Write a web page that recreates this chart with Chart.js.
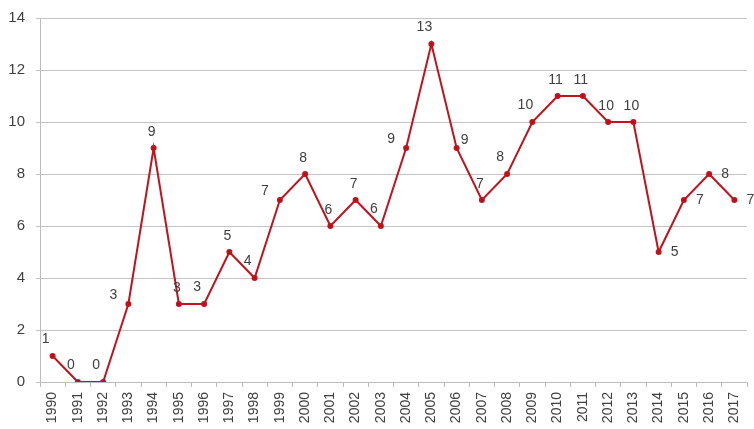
<!DOCTYPE html>
<html>
<head>
<meta charset="utf-8">
<script src="https://cdn.jsdelivr.net/npm/chart.js@4"></script>
<style>
    html, body { margin: 0; padding: 0; background: #fff; }
    #wrap { width: 754px; height: 429px; }
</style>
</head>
<body>
<div id="wrap"><canvas id="chart" width="754" height="429"></canvas></div>
<script>
// Chart data
const years = ['1990','1991','1992','1993','1994','1995','1996','1997','1998','1999',
    '2000','2001','2002','2003','2004','2005','2006','2007','2008','2009',
    '2010','2011','2012','2013','2014','2015','2016','2017'];
const counts = [1, 0, 0, 3, 9, 3, 3, 5, 4, 7, 8, 6, 7, 6, 9, 13, 9, 7, 8, 10, 11, 11, 10, 10, 5, 7, 8, 7];
const yTicks = [0, 2, 4, 6, 8, 10, 12, 14];

// where each value label sits around its point
const labelSide = ['aboveLeft','aboveLeft','aboveLeft','left','above','above','aboveLeft','above','aboveLeft','left',
    'above','above','above','aboveLeft','left','aboveLeft','rightUp','above','aboveLeft','aboveLeft',
    'above','above','above','above','right','right','right','right'];

const sideOffsets = {
    above: [-2, -16],
    aboveLeft: [-7, -17],
    left: [-15, -9],
    right: [16, 0],
    rightUp: [8, -8]
};

const valueLabels = {
    id: 'valueLabels',
    afterDatasetsDraw(chart) {
        const ctx = chart.ctx;
        const meta = chart.getDatasetMeta(0);
        ctx.save();
        ctx.font = '14px "Liberation Sans", Arial, sans-serif';
        ctx.fillStyle = '#404040';
        ctx.textAlign = 'center';
        ctx.textBaseline = 'middle';
        meta.data.forEach((pt, i) => {
            const off = sideOffsets[labelSide[i]];
            ctx.fillText(String(counts[i]), pt.x + off[0], pt.y + off[1]);
        });
        ctx.restore();
    }
};

new Chart(document.getElementById('chart'), {
    type: 'line',
    data: {
        labels: years,
        datasets: [{
            data: counts,
            borderColor: '#c0141c',
            backgroundColor: '#b01018',
            borderWidth: 2,
            pointRadius: 2,
            pointHoverRadius: 2,
            tension: 0,
            fill: false
        }]
    },
    options: {
        responsive: false,
        animation: false,
        layout: { padding: { top: 18, right: 7, left: 0, bottom: 0 } },
        plugins: {
            legend: { display: false },
            tooltip: { enabled: false }
        },
        scales: {
            x: {
                offset: true,
                grid: {
                    display: true,
                    offset: true,
                    drawOnChartArea: false,
                    drawTicks: true,
                    tickLength: 5,
                    color: '#bcbcbc'
                },
                border: { color: '#bcbcbc' },
                ticks: {
                    minRotation: 90,
                    maxRotation: 90,
                    autoSkip: false,
                    padding: 5,
                    color: '#404040',
                    font: { family: '"Liberation Sans", Arial, sans-serif', size: 14 }
                },
                afterFit(scale) {
                    scale.height = 47;
                    scale.paddingLeft = 0;
                    scale.paddingRight = 0;
                }
            },
            y: {
                min: 0,
                max: 14,
                afterBuildTicks(scale) { scale.ticks = yTicks.map(v => ({ value: v })); },
                grid: {
                    color: '#c4c4c4',
                    tickLength: 4
                },
                border: { color: '#bcbcbc' },
                ticks: {
                    padding: 11,
                    color: '#404040',
                    font: { family: '"Liberation Sans", Arial, sans-serif', size: 15 }
                },
                afterFit(scale) {
                    scale.width = 40;
                    scale.paddingTop = 0;
                    scale.paddingBottom = 0;
                }
            }
        }
    },
    plugins: [valueLabels]
});
</script>
</body>
</html>
